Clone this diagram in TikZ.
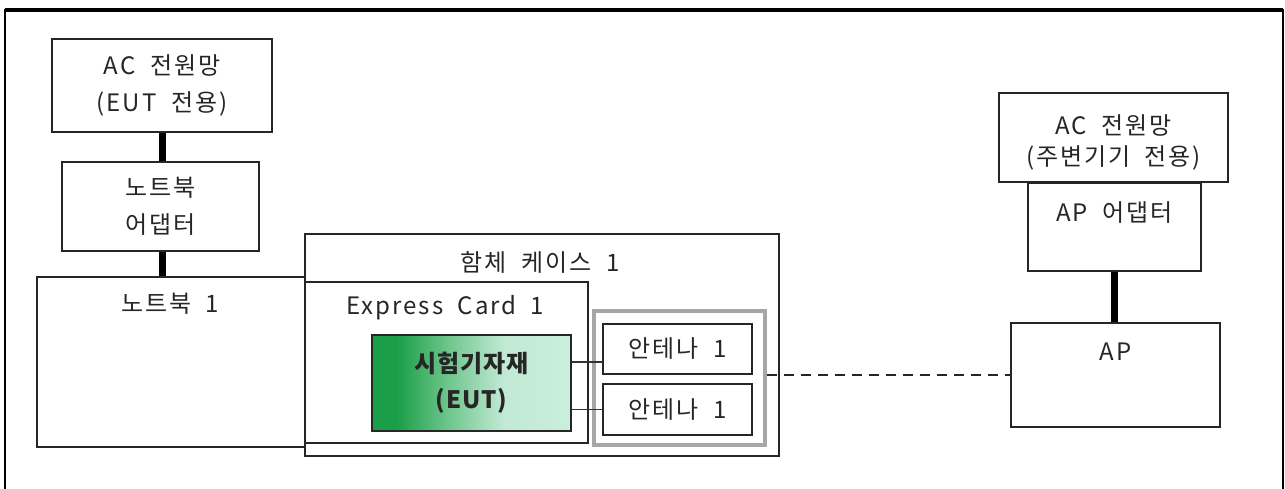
\documentclass[tikz,border=0pt]{standalone}
\usepackage{fontspec}
\setmainfont{Noto Sans CJK KR}[LetterSpace=8,WordSpace=2]
\usetikzlibrary{calc}
\definecolor{txt}{HTML}{262626}
\definecolor{gA}{HTML}{1A9E47}
\definecolor{gB}{HTML}{6EC58C}
\definecolor{gC}{HTML}{C1E9D3}
\definecolor{gD}{HTML}{CAEFDD}
\definecolor{grpgray}{HTML}{A6A6A6}
\pgfdeclarehorizontalshading{eutshade}{100bp}{color(0bp)=(gA); color(25bp)=(gA); color(31bp)=(gA); color(44bp)=(gB); color(58bp)=(gC); color(75bp)=(gD); color(100bp)=(gD)}
\tikzset{
  box/.style={draw=black!85, line width=1.8pt, inner sep=0pt, text=txt, align=center,
    font=\fontsize{24}{37}\selectfont},
  lbl/.style={inner sep=0pt, text=txt, align=center, font=\fontsize{24}{31}\selectfont},
  power/.style={line width=7pt, draw=black},
  wire/.style={line width=1.3pt, draw=black!80},
  radio/.style={line width=2pt, draw=black!85, dash pattern=on 10pt off 7pt},
  frame/.style={draw=black, line width=2pt},
}
\begin{document}
\begin{tikzpicture}[x=1pt,y=-1pt]
\useasboundingbox (0,0) rectangle (1285,489);
% outer frame
\draw[frame] (5,500) -- (5,10) -- (1283,10) -- (1283,500);
\draw[frame, line width=3.5pt] (5,10) -- (1283,10);

% left chain
\node[box, minimum width=220, minimum height=93] (acE) at (162,85.5) {AC 전원망\\(EUT 전용)};
\node[box, minimum width=197, minimum height=89] (adpE) at (160.5,206.5) {노트북\\어댑터};
\node[box, minimum width=268, minimum height=170] (nb) at (171,362) {};
\node[lbl] (nbL) at ($(nb.north)+(-1,28)$) {노트북 1};

% housing
\node[box, minimum width=474, minimum height=222] (case) at (542,345) {};
\node[lbl] (caseL) at ($(case.north)+(-2,29)$) {함체 케이스 1};
\node[box, minimum width=283, minimum height=161] (ec) at (446.5,362.5) {};
\node[lbl] (ecL) at ($(ec.north)+(-1,27)$) {Express Card 1};
\node[box, minimum width=199, minimum height=96, shading=eutshade, font=\fontsize{24}{36}\selectfont\bfseries\addfontfeatures{LetterSpace=4}] (eut) at (471.5,383) {시험기자재\\(EUT)};
\node[draw=grpgray, line width=3.5pt, inner sep=0pt, minimum width=171, minimum height=134] (grp) at (679.5,378) {};
\node[box, minimum width=149, minimum height=50] (ant1) at (677.5,349) {안테나 1};
\node[box, minimum width=149, minimum height=51] (ant2) at (677.5,409.5) {안테나 1};

% right chain
\node[box, minimum width=229, minimum height=89] (acP) at (1113.5,137.5) {};
\node[lbl] (acPL) at ($(acP.center)+(0,5)$) {AC 전원망\\(주변기기 전용)};
\node[box, minimum width=173, minimum height=88] (apadp) at (1114.5,227) {};
\node[lbl] (apadpL) at ($(apadp.north)+(0,30)$) {AP 어댑터};
\node[box, minimum width=209, minimum height=104] (ap) at (1115.5,375) {};
\node[lbl] (apL) at ($(ap.north)+(0,30)$) {AP};

% connectors
\draw[power] (acE.south) -- (acE.south |- adpE.north);
\draw[power] (acE.south |- adpE.south) -- (acE.south |- nb.north);
\draw[power] (apadp.south) -- (apadp.south |- ap.north);
\coordinate (a1in) at ($(ant1.west)+(0,13)$);
\draw[wire] (eut.east |- a1in) -- (a1in);
\draw[wire] (eut.east |- ant2.west) -- (ant2.west);
\draw[radio] (grp.east |- ap.west) -- (ap.west);
\end{tikzpicture}
\end{document}
